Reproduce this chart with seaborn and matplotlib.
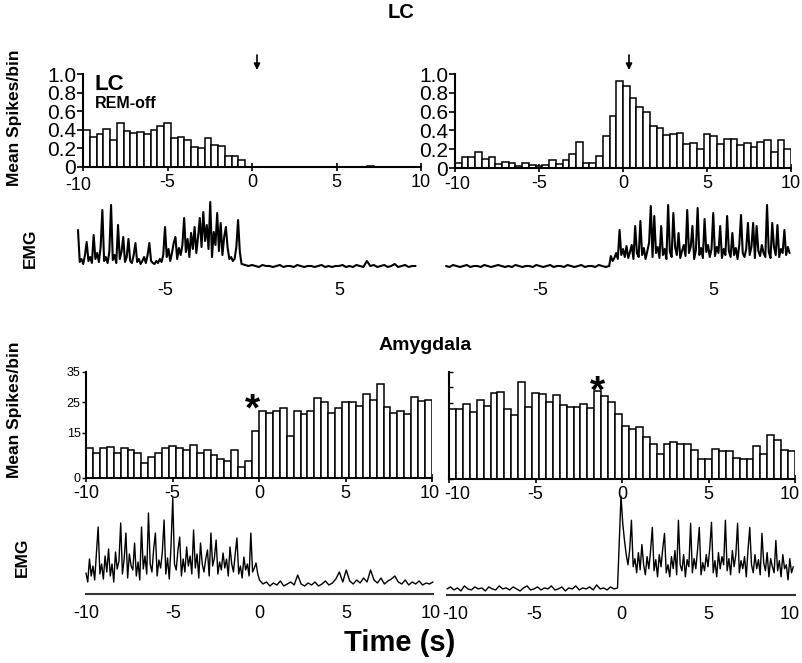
import numpy as np
import pandas as pd
import matplotlib
matplotlib.use("Agg")
import matplotlib.pyplot as plt
import matplotlib.transforms as mtrans
import seaborn as sns

# ---------------- data ----------------
N_BINS = 50                                   # 0.4 s bins over -10..10 s
X_RANGE = (-10, 10)
X_TICKS = [-10, -5, 0, 5, 10]
EMG_TOP_TICKS = [-5, 5]
LC_YTICKS = [0, 0.2, 0.4, 0.6, 0.8, 1.0]
LC_YTICKLABELS = ["0", "0.2", "0.4", "0.6", "0.8", "1.0"]
AMY_YTICKS = [0, 15, 25, 35]

lc_rem_off = [0.40, 0.32, 0.36, 0.41, 0.29, 0.47, 0.39, 0.37, 0.38, 0.36,
              0.40, 0.44, 0.47, 0.31, 0.32, 0.29, 0.22, 0.20, 0.31, 0.24,
              0.23, 0.12, 0.12, 0.08, 0, 0, 0, 0, 0, 0,
              0, 0, 0, 0, 0, 0, 0, 0, 0, 0,
              0, 0, 0.01, 0, 0, 0, 0, 0, 0, 0]
lc_rem_on = [0.05, 0.12, 0.12, 0.17, 0.10, 0.12, 0.04, 0.06, 0.05, 0.02,
             0.05, 0.03, 0.02, 0.03, 0.08, 0.04, 0.08, 0.15, 0.28, 0.05,
             0.05, 0.13, 0.34, 0.55, 0.93, 0.87, 0.74, 0.65, 0.60, 0.45,
             0.43, 0.35, 0.36, 0.37, 0.26, 0.27, 0.20, 0.36, 0.34, 0.26,
             0.31, 0.31, 0.24, 0.27, 0.22, 0.28, 0.30, 0.17, 0.30, 0.20]
amy_left = [9.9, 8.4, 9.9, 10.3, 8.4, 9.9, 9.1, 8.4, 5.0, 6.8,
            8.4, 9.9, 10.7, 9.9, 9.1, 10.9, 8.4, 9.2, 7.6, 6.2,
            5.7, 9.1, 3.6, 5.6, 15.6, 22.2, 21.3, 22.2, 23.0, 13.9,
            22.2, 21.0, 22.2, 26.5, 25.2, 21.3, 23.0, 25.2, 25.2, 23.8,
            27.8, 25.9, 31.0, 23.6, 21.3, 22.1, 21.0, 26.7, 25.3, 25.8]
amy_right = [23.0, 23.0, 24.4, 21.9, 25.9, 23.9, 28.2, 28.5, 23.0, 20.8,
             31.6, 23.6, 28.2, 27.8, 25.3, 27.6, 24.2, 23.6, 23.4, 24.4,
             23.3, 28.7, 27.3, 25.3, 21.3, 17.3, 16.5, 17.1, 13.6, 11.6,
             8.2, 11.4, 12.2, 11.4, 11.4, 9.4, 6.5, 6.5, 9.7, 9.1,
             9.1, 7.0, 6.4, 6.4, 10.7, 8.1, 14.3, 12.7, 9.4, 9.2]

# EMG traces (amplitude)
emg_top_l_active = [37, 5, 8, 3, 12, 25, 6, 10, 4, 32,
                    8, 14, 5, 20, 57, 6, 10, 4, 15, 62,
                    7, 12, 4, 42, 8, 15, 30, 5, 10, 28,
                    6, 4, 12, 24, 5, 8, 3, 6, 10, 4,
                    12, 24, 6, 4, 3, 6, 4, 8, 5, 12,
                    40, 10, 18, 6, 14, 24, 30, 8, 19, 12,
                    22, 49, 15, 28, 10, 34, 18, 40, 14, 30,
                    49, 20, 55, 26, 42, 18, 65, 10, 35, 22,
                    54, 16, 44, 12, 30, 40, 19, 8, 10, 6,
                    8, 20, 47, 15]
emg_top_l_quiet = [3, 2, 1, 2, 1, 0, 2, 1, 1, 0,
                   1, 2, 0, 1, 1, 0, 2, 1, 0, 1,
                   1, 0, 1, 2, 0, 1, 0, 1, 1, 2,
                   0, 1, 0, 2, 1, 0, 6, 1, 2, 0,
                   1, 2, 0, 1, 3, 0, 1, 2, 0, 1, 1]
emg_top_r_quiet = [1, 0, 2, 1, 0, 1, 2, 0, 1, 1,
                   0, 2, 1, 0, 1, 2, 1, 0, 1, 0,
                   2, 1, 0, 1, 1, 0, 2, 1, 0, 1,
                   2, 0, 1, 1, 0, 2, 1, 0, 1, 2,
                   0, 1, 1, 0, 2, 1, 0, 1]
emg_top_r_active = [11, 6, 9, 14, 8, 37, 12, 18, 10, 21,
                    9, 15, 22, 8, 41, 14, 10, 46, 12, 19,
                    8, 16, 24, 61, 10, 51, 14, 20, 9, 41,
                    12, 18, 8, 62, 15, 10, 54, 20, 12, 34,
                    9, 16, 22, 11, 57, 14, 20, 41, 8, 17,
                    59, 12, 19, 9, 48, 15, 22, 10, 18, 54,
                    11, 20, 14, 41, 9, 18, 12, 51, 16, 10,
                    34, 12, 19, 8, 22, 52, 14, 10, 18, 44,
                    12, 20, 44, 9, 41, 16, 11, 22, 14, 10,
                    62, 15, 9, 44, 20, 12, 42, 10, 18, 14,
                    37, 12, 20, 14]
emg_bot_l_active = [21, 12, 35, 18, 28, 14, 40, 67, 20, 30,
                    15, 38, 22, 45, 18, 30, 12, 42, 25, 33,
                    71, 20, 35, 61, 16, 40, 28, 24, 51, 18,
                    32, 14, 67, 25, 38, 20, 81, 30, 22, 45,
                    61, 18, 34, 26, 42, 74, 20, 36, 15, 48,
                    96, 30, 24, 44, 57, 18, 35, 22, 47, 28,
                    38, 20, 64, 26, 40, 16, 51, 30, 22, 35,
                    44, 18, 61, 28, 36, 54, 20, 32, 24, 41,
                    26, 35, 18, 47, 30, 22, 40, 56, 20, 28,
                    16, 37, 24, 30, 18, 61, 22, 26, 31, 20]
emg_bot_l_quiet = [14, 10, 12, 8, 11, 9, 13, 8, 10, 12,
                   9, 19, 10, 8, 11, 9, 12, 8, 10, 13,
                   9, 11, 15, 22, 12, 24, 13, 10, 14, 11,
                   16, 12, 24, 14, 11, 16, 10, 13, 15, 18,
                   12, 10, 14, 9, 12, 10, 13, 9, 11, 10, 12]
emg_bot_r_quiet = [6, 8, 5, 7, 4, 9, 6, 5, 8, 6,
                   7, 4, 8, 6, 5, 9, 6, 7, 5, 8,
                   6, 4, 7, 9, 5, 6, 8, 5, 7, 6,
                   9, 5, 6, 8, 4, 7, 6, 9, 5, 7,
                   6, 8, 5, 10, 6, 7, 5, 8, 6, 7]
emg_bot_r_active = [98, 71, 54, 40, 30, 45, 74, 28, 36, 22,
                    42, 25, 50, 30, 20, 38, 26, 44, 67, 24,
                    35, 18, 40, 28, 46, 61, 22, 30, 18, 38,
                    26, 44, 20, 74, 30, 24, 40, 18, 35, 28,
                    71, 22, 36, 26, 45, 67, 20, 32, 24, 40,
                    28, 46, 72, 22, 34, 18, 42, 26, 38, 30,
                    74, 24, 36, 20, 44, 28, 40, 71, 22, 34,
                    26, 38, 18, 45, 67, 30, 22, 40, 26, 35,
                    20, 61, 32, 24, 42, 18, 36, 28, 22, 54,
                    24, 34, 18, 40, 26, 30, 15, 36, 22, 28]

# segment time spans (s): (start, stop) for each list above
SEG_TOP_L = [(-10.0, -0.7), (-0.6, 9.4)]
SEG_TOP_R = [(-10.4, -1.0), (-0.9, 9.4)]
SEG_BOT_L = [(-10.0, -0.1), (0.0, 10.0)]
SEG_BOT_R = [(-10.0, -0.2), (0.0, 9.9)]

# ---------------- style ----------------
sns.set_theme(style="white")
plt.rcParams['font.family'] = ['Liberation Sans', 'DejaVu Sans']
plt.rcParams['axes.unicode_minus'] = False
for k in ['text.color', 'axes.labelcolor', 'xtick.color', 'ytick.color', 'axes.edgecolor']:
    plt.rcParams[k] = 'black'

W, H = 802, 663
fig = plt.figure(figsize=(W / 100, H / 100), dpi=100)


def px_axes(x0, x1, ytop, ybot):
    return fig.add_axes([x0 / W, 1 - ybot / H, (x1 - x0) / W, (ybot - ytop) / H])


def trace(segments, spans):
    t = np.concatenate([np.linspace(a, b, len(s)) for s, (a, b) in zip(segments, spans)])
    v = np.concatenate([np.asarray(s, float) for s in segments])
    return t, v


def shift_label(ax, idx, dx_px, dy_px=0):
    lbl = ax.get_xticklabels()[idx]
    off = mtrans.ScaledTranslation(dx_px / 100, dy_px / 100, fig.dpi_scale_trans)
    lbl.set_transform(lbl.get_transform() + off)


def draw_hist(ax, vals, ymax):
    width = (X_RANGE[1] - X_RANGE[0]) / N_BINS
    centers = X_RANGE[0] + width * (np.arange(N_BINS) + 0.5)
    df = pd.DataFrame({'t': centers, 'w': vals})
    sns.histplot(data=df, x='t', weights='w', bins=N_BINS, binrange=X_RANGE, ax=ax,
                 color='white', edgecolor='black', linewidth=1.1, alpha=1)
    ax.set_xlim(*X_RANGE)
    ax.set_ylim(0, ymax)
    ax.set_xlabel('')
    ax.set_ylabel('')
    sns.despine(ax=ax)
    for s in ['left', 'bottom']:
        ax.spines[s].set_linewidth(1.5)
    ax.set_xticks(X_TICKS)
    ax.tick_params(axis='x', bottom=True, direction='inout', length=6, width=1.2,
                   labelsize=13, pad=2)


def draw_emg(ax, t, v, lw):
    sns.lineplot(x=t, y=v, ax=ax, color='black', linewidth=lw, estimator=None, sort=False)
    for ln in ax.lines:
        ln.set_clip_on(False)
    ax.set_xlim(*X_RANGE)
    ax.set_xlabel('')
    ax.set_ylabel('')
    ax.set_yticks([])
    for s in ['left', 'right', 'top']:
        ax.spines[s].set_visible(False)
    ax.patch.set_alpha(0)


# ---- LC histograms ----
ax1 = px_axes(83, 421, 74, 167)
draw_hist(ax1, lc_rem_off, 1.0)
ax2 = px_axes(455, 791, 74, 168)
draw_hist(ax2, lc_rem_on, 1.0)
for ax in (ax1, ax2):
    ax.set_yticks(LC_YTICKS)
    ax.set_yticklabels(LC_YTICKLABELS)
    ax.tick_params(axis='y', left=True, direction='out', length=4, width=1.2,
                   labelsize=15, pad=1)
shift_label(ax1, 0, -5, -3)
shift_label(ax2, 0, 2, -1)

# ---- LC EMG ----
ax3 = px_axes(78, 426, 195, 278)
t, v = trace([emg_top_l_active, emg_top_l_quiet], SEG_TOP_L)
draw_emg(ax3, t, v, 1.5)
ax4 = px_axes(453, 800, 195, 278)
t, v = trace([emg_top_r_quiet, emg_top_r_active], SEG_TOP_R)
draw_emg(ax4, t, v, 1.5)
for ax in (ax3, ax4):
    ax.set_ylim(-11, 72)
    ax.spines['bottom'].set_visible(False)
    ax.set_xticks(EMG_TOP_TICKS)
    ax.tick_params(axis='x', bottom=False, length=0, labelsize=13, pad=3)

# ---- Amygdala histograms ----
ax5 = px_axes(86, 432, 372, 478)
draw_hist(ax5, amy_left, 35)
ax5.set_yticks(AMY_YTICKS)
ax5.tick_params(axis='y', left=True, direction='out', length=3, width=1,
                labelsize=9, pad=1)
ax6 = px_axes(449, 795, 372, 479)
draw_hist(ax6, amy_right, 35)
ax6.set_yticks(np.arange(0, 36, 5))
ax6.set_yticklabels([])
ax6.tick_params(axis='y', left=True, direction='in', length=3, width=1)

# ---- Amygdala EMG ----
ax7 = px_axes(86, 433, 490, 594)
t, v = trace([emg_bot_l_active, emg_bot_l_quiet], SEG_BOT_L)
draw_emg(ax7, t, v, 1.0)
ax8 = px_axes(447, 795, 490, 595)
t, v = trace([emg_bot_r_quiet, emg_bot_r_active], SEG_BOT_R)
draw_emg(ax8, t, v, 1.0)
for ax in (ax7, ax8):
    ax.set_ylim(0, 104)
    ax.spines['bottom'].set_linewidth(1.5)
    ax.spines['bottom'].set_color('#333333')
    ax.set_xticks(X_TICKS)
    ax.tick_params(axis='x', bottom=False, length=0, labelsize=13, pad=8)

# keep neighbouring "10" / "-10" labels apart, as in the reference
for ax in (ax6, ax8):
    shift_label(ax, 0, 8)
    shift_label(ax, -1, -5)
for ax in (ax5, ax7):
    shift_label(ax, -1, -2)

# ---------------- texts ----------------
def ftext(x, y, s, **kw):
    fig.text(x / W, 1 - y / H, s, **kw)

ftext(401, 13, 'LC', ha='center', va='center', fontsize=14.5, fontweight='bold')
ftext(425, 345, 'Amygdala', ha='center', va='center', fontsize=14, fontweight='bold')
ftext(15, 118, 'Mean Spikes/bin', rotation=90, ha='center', va='center',
      fontsize=12.5, fontweight='bold')
ftext(15, 410, 'Mean Spikes/bin', rotation=90, ha='center', va='center',
      fontsize=12.5, fontweight='bold')
ftext(30, 248, 'EMG', rotation=90, ha='center', va='center', fontsize=12.5, fontweight='bold')
ftext(22, 557, 'EMG', rotation=90, ha='center', va='center', fontsize=12.5, fontweight='bold')
ftext(400, 643, 'Time (s)', ha='center', va='center', fontsize=21, fontweight='bold',
      family=['Liberation Sans Narrow', 'Liberation Sans'])
ftext(95, 90, 'LC', ha='left', va='baseline', fontsize=16, fontweight='bold')
ftext(95, 108, 'REM-off', ha='left', va='baseline', fontsize=11.5, fontweight='bold')
ftext(252, 420, '*', ha='center', va='baseline', fontsize=28, fontweight='bold')
ftext(597, 402, '*', ha='center', va='baseline', fontsize=28, fontweight='bold')

for xp in (257, 629):
    fig.axes[0].annotate('', xy=(xp, H - 70), xytext=(xp, H - 55), xycoords='figure pixels',
                         textcoords='figure pixels',
                         arrowprops=dict(arrowstyle='-|>', color='black', lw=1.2,
                                         mutation_scale=9, shrinkA=0, shrinkB=0))

fig.savefig('out.png', dpi=100)
